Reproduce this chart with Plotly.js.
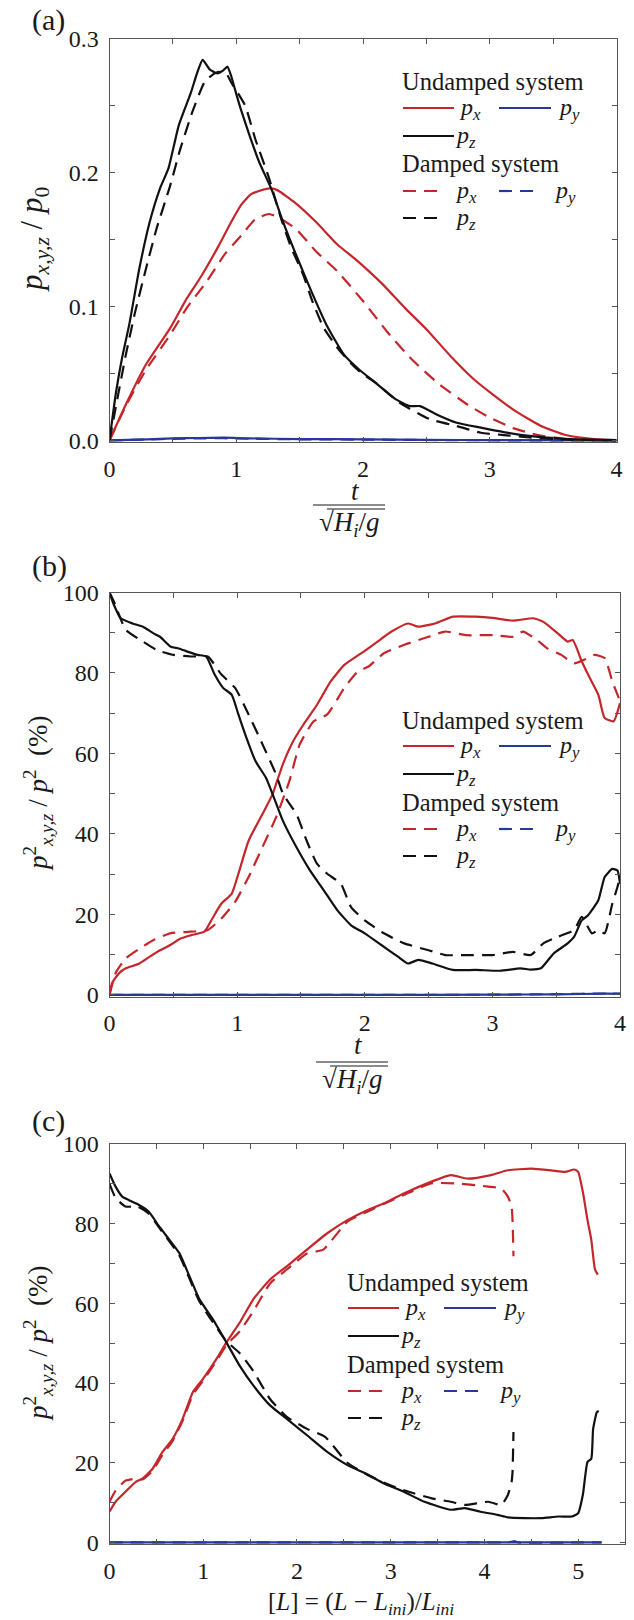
<!DOCTYPE html>
<html>
<head>
<meta charset="utf-8">
<script src="https://cdn.plot.ly/plotly-3.0.1.min.js"></script>
</head>
<body style="margin:0;background:#fff">
<div id="chart" style="width:634px;height:1620px"></div>
<script>
// ---------------- Panel (a): p/p0 vs t/sqrt(Hi/g) ----------------
const tA_pxU = [0, 0.13, 0.29, 0.48, 0.61, 0.72, 0.86, 0.96, 1.04, 1.12, 1.25, 1.32, 1.47, 1.63, 1.8, 1.93, 2.05, 2.15, 2.34, 2.5, 2.69, 2.87, 3.0, 3.2, 3.4, 3.6, 3.8, 4.0];
const vA_pxU = [0, 0.027, 0.057, 0.084, 0.106, 0.122, 0.145, 0.163, 0.176, 0.184, 0.188, 0.187, 0.177, 0.163, 0.146, 0.136, 0.126, 0.117, 0.098, 0.083, 0.063, 0.046, 0.036, 0.022, 0.011, 0.004, 0.0012, 0.0002];
const tA_pzU = [0, 0.05, 0.1, 0.156, 0.237, 0.317, 0.398, 0.465, 0.546, 0.64, 0.694, 0.735, 0.79, 0.85, 0.895, 0.93, 0.96, 0.99, 1.03, 1.1, 1.18, 1.28, 1.37, 1.47, 1.58, 1.71, 1.85, 1.98, 2.1, 2.26, 2.37, 2.45, 2.58, 2.74, 2.93, 3.11, 3.33, 3.59, 3.8, 4.0];
const vA_pzU = [0, 0.035, 0.062, 0.0866, 0.129, 0.163, 0.188, 0.203, 0.235, 0.259, 0.275, 0.284, 0.277, 0.274, 0.276, 0.279, 0.272, 0.262, 0.249, 0.229, 0.208, 0.187, 0.163, 0.139, 0.114, 0.0866, 0.064, 0.052, 0.043, 0.0306, 0.0256, 0.0256, 0.0194, 0.0132, 0.0095, 0.0062, 0.0032, 0.0012, 0.0005, 0.0002];
const tA_pyU = [0, 0.3, 0.5, 0.7, 0.9, 1.1, 1.5, 2.0, 2.5, 3.0, 4.0];
const vA_pyU = [0, 0.0008, 0.0015, 0.0018, 0.002, 0.0015, 0.001, 0.0008, 0.0004, 0.0002, 0];
const tA_pxD = [0, 0.13, 0.29, 0.48, 0.61, 0.77, 0.91, 1.04, 1.15, 1.26, 1.34, 1.47, 1.63, 1.8, 2.0, 2.2, 2.39, 2.6, 2.82, 3.0, 3.19, 3.38, 3.59, 3.8, 4.0];
const vA_pxD = [0, 0.026, 0.053, 0.079, 0.099, 0.119, 0.139, 0.153, 0.165, 0.169, 0.166, 0.158, 0.141, 0.126, 0.104, 0.08, 0.06, 0.042, 0.027, 0.017, 0.009, 0.004, 0.0012, 0.0003, 0];
const tA_pzD = [0, 0.05, 0.129, 0.2, 0.29, 0.371, 0.478, 0.56, 0.653, 0.747, 0.8, 0.855, 0.92, 0.962, 1.07, 1.15, 1.258, 1.352, 1.433, 1.527, 1.6, 1.69, 1.8, 1.9, 1.99, 2.1, 2.29, 2.53, 2.74, 2.93, 3.11, 3.33, 3.59, 4.0];
const vA_pzD = [0, 0.025, 0.064, 0.095, 0.129, 0.158, 0.19, 0.218, 0.245, 0.267, 0.272, 0.275, 0.274, 0.267, 0.25, 0.225, 0.196, 0.166, 0.144, 0.124, 0.104, 0.084, 0.069, 0.058, 0.05, 0.043, 0.028, 0.0157, 0.0107, 0.0057, 0.004, 0.002, 0.0007, 0];
const tA_pyD = [0, 0.3, 0.5, 0.7, 0.9, 1.1, 1.5, 2.0, 2.5, 3.0, 4.0];
const vA_pyD = [0, 0.0007, 0.0012, 0.0015, 0.0016, 0.0012, 0.0008, 0.0006, 0.0003, 0.0001, 0];

// ---------------- Panel (b): p^2/p^2 (%) vs t ----------------
const tB_pxU = [0, 0.02, 0.075, 0.128, 0.235, 0.315, 0.396, 0.476, 0.556, 0.636, 0.743, 0.797, 0.877, 0.957, 1.01, 1.09, 1.198, 1.278, 1.358, 1.44, 1.52, 1.626, 1.733, 1.84, 2.0, 2.1, 2.21, 2.34, 2.42, 2.55, 2.69, 2.87, 3.0, 3.16, 3.32, 3.4, 3.51, 3.59, 3.63, 3.7, 3.75, 3.83, 3.88, 3.95, 4.0];
const vB_pxU = [0, 2.9, 5.4, 6.6, 7.8, 9.5, 11.1, 12.4, 14, 14.8, 15.7, 18.5, 22.7, 25.1, 30.1, 38.3, 44.9, 49.9, 57.3, 63.1, 67.2, 72.1, 77.9, 82, 85.5, 87.8, 90.3, 92.3, 91.5, 92.3, 94, 94, 93.7, 93, 93.6, 92.7, 89.9, 87.8, 88.2, 82.9, 79.6, 74.6, 68.8, 68, 72.5];
const tB_pzU = [0, 0.035, 0.088, 0.18, 0.262, 0.342, 0.396, 0.476, 0.543, 0.61, 0.69, 0.757, 0.824, 0.89, 0.957, 1.01, 1.064, 1.144, 1.225, 1.278, 1.358, 1.465, 1.572, 1.679, 1.786, 1.893, 2.0, 2.13, 2.26, 2.34, 2.42, 2.53, 2.69, 2.87, 3.06, 3.22, 3.3, 3.38, 3.48, 3.59, 3.64, 3.7, 3.75, 3.83, 3.88, 3.94, 3.98, 4.0];
const vB_pzU = [100, 96.9, 93.6, 92.3, 91.5, 89.9, 89, 86.6, 86.1, 85.3, 84.5, 84.1, 79.6, 76.3, 74.6, 69.7, 64.7, 58.1, 54, 49.9, 43.3, 36.7, 30.9, 26, 21, 17.3, 15.3, 12.4, 9.5, 7.8, 8.7, 7.8, 6.2, 6.2, 6.0, 6.6, 6.3, 6.6, 10.3, 12.8, 14.4, 18.5, 19.8, 23.5, 29.3, 31.3, 30.9, 27.6];
const tB_pyU = [0, 1, 2, 3, 3.5, 3.9, 4.0];
const vB_pyU = [0, 0, 0, 0.05, 0.15, 0.3, 0.25];
const tB_pxD = [0, 0.048, 0.128, 0.235, 0.342, 0.476, 0.636, 0.77, 0.877, 0.984, 1.09, 1.198, 1.305, 1.41, 1.49, 1.6, 1.706, 1.84, 1.947, 2.03, 2.15, 2.31, 2.5, 2.63, 2.79, 3.0, 3.16, 3.24, 3.35, 3.43, 3.54, 3.64, 3.72, 3.8, 3.88, 3.94, 3.98, 4.0];
const vB_pxD = [0, 5.4, 9.1, 11.5, 13.6, 15.3, 15.7, 16.1, 19, 23.1, 29.3, 36.7, 44.1, 53.2, 62.2, 68, 69.7, 76.3, 80.4, 81.6, 84.9, 87, 89, 90.3, 89.4, 89.4, 89, 90.3, 88.2, 86.1, 84.5, 82.4, 83.3, 84.5, 83.7, 77.9, 74.6, 73];
const tB_pzD = [0, 0.035, 0.128, 0.262, 0.37, 0.5, 0.636, 0.77, 0.877, 0.984, 1.09, 1.2, 1.305, 1.36, 1.465, 1.545, 1.626, 1.706, 1.813, 1.893, 2.0, 2.15, 2.31, 2.5, 2.63, 2.79, 3.0, 3.16, 3.3, 3.4, 3.51, 3.64, 3.7, 3.78, 3.83, 3.88, 3.94, 3.98, 4.0];
const vB_pzD = [100, 97.7, 90.7, 87.8, 85.7, 84.5, 84.1, 84.1, 79.6, 76.3, 69.7, 62.2, 54.8, 49.9, 44.9, 38.3, 32.6, 30.1, 27.6, 21.8, 18.5, 15.3, 12.8, 11.1, 9.9, 9.9, 9.9, 10.7, 9.9, 12.8, 14.4, 16.1, 19.4, 15.3, 16.1, 15.3, 22.7, 26.8, 29.3];
const tB_pyD = [0, 1, 2, 3, 3.5, 3.9, 4.0];
const vB_pyD = [0, 0, 0, 0.05, 0.2, 0.35, 0.3];

// ---------------- Panel (c): p^2/p^2 (%) vs [L] ----------------
const lC_pxU = [0, 0.065, 0.17, 0.28, 0.35, 0.46, 0.566, 0.674, 0.78, 0.889, 0.996, 1.14, 1.247, 1.39, 1.534, 1.713, 1.892, 2.107, 2.323, 2.538, 2.75, 2.93, 3.14, 3.43, 3.64, 3.82, 4.07, 4.25, 4.5, 4.71, 4.86, 4.96, 5.0, 5.05, 5.1, 5.14, 5.18, 5.21];
const vC_pxU = [7.7, 10.2, 12.7, 15.2, 16, 18.5, 22.7, 26, 31, 37.7, 41, 46, 50.2, 55.2, 61, 66, 69.3, 73.5, 77.6, 80.9, 83.4, 85.1, 87.6, 90.5, 92.2, 91.3, 92.2, 93.4, 93.8, 93.4, 93, 93.6, 93, 88, 80.9, 76, 68.5, 67.2];
const lC_pzU = [0, 0.065, 0.136, 0.208, 0.315, 0.42, 0.53, 0.638, 0.745, 0.853, 0.96, 1.104, 1.247, 1.39, 1.534, 1.713, 1.892, 2.107, 2.323, 2.538, 2.75, 2.93, 3.14, 3.36, 3.64, 3.79, 3.96, 4.14, 4.25, 4.43, 4.61, 4.79, 4.93, 5.0, 5.05, 5.1, 5.14, 5.16, 5.2, 5.22];
const vC_pzU = [92.6, 89.3, 86.8, 85.9, 84.7, 83, 79.3, 76, 72.6, 66.8, 61, 56, 50.2, 44.3, 39.4, 34.4, 31, 26.9, 22.7, 19.4, 17.1, 14.8, 12.7, 10.2, 8.2, 8.6, 7.7, 6.9, 6.3, 6.1, 6.1, 6.5, 6.5, 7.3, 11.9, 20.2, 21, 28.5, 32.7, 33];
const lC_pyU = [0, 1, 2, 3, 4, 5, 5.25];
const vC_pyU = [0, 0, 0, 0, 0, 0, 0];
const lC_pxD = [0, 0.065, 0.17, 0.28, 0.35, 0.46, 0.566, 0.674, 0.78, 0.889, 0.996, 1.14, 1.247, 1.39, 1.534, 1.713, 1.892, 2.107, 2.28, 2.538, 2.75, 2.93, 3.14, 3.43, 3.71, 4.04, 4.18, 4.25, 4.29, 4.31];
const vC_pxD = [10.2, 13, 15.5, 16, 15.8, 18, 22, 25.5, 30.5, 37, 40.5, 45.5, 49.5, 53, 58, 65, 68.5, 72.5, 73.5, 80.5, 83, 85, 87.2, 90.1, 90.1, 89.3, 88.8, 86.8, 84.3, 71.8];
const lC_pzD = [0, 0.065, 0.17, 0.3, 0.42, 0.53, 0.745, 0.96, 1.247, 1.39, 1.534, 1.713, 1.892, 2.107, 2.3, 2.538, 2.75, 2.93, 3.14, 3.43, 3.64, 3.79, 4.04, 4.18, 4.25, 4.29, 4.3, 4.31];
const vC_pzD = [90, 86.5, 84.3, 84.3, 82.5, 79, 72, 60.5, 50.5, 47.5, 43, 36, 31.5, 28.5, 26.5, 20, 17, 15, 13.1, 11.1, 10.2, 9.4, 10.2, 9.4, 11.9, 15.2, 17.7, 27.7];
const lC_pyD = [0, 1, 2, 3, 4, 4.28, 4.32, 4.36, 5, 5.25];
const vC_pyD = [0, 0, 0, 0, 0, 0.1, 0.35, 0, 0, 0];

// ---------------- Text ----------------
const legendTitles = ["Undamped system", "Damped system"];
const compLabels = ["<i>p</i><sub><i>x</i></sub>", "<i>p</i><sub><i>y</i></sub>", "<i>p</i><sub><i>z</i></sub>"];
const panelLabels = ["(a)", "(b)", "(c)"];

// ---------------- Styles ----------------
const RED = "#c4262b", BLACK = "#111111", BLUE = "#26399b";
const DASH = "13px,8px";
const FONT = "Liberation Serif";
const W = 634, H = 1620;
const X = px => px / W;
const Y = py => 1 - py / H;

function tr(x, y, color, dashed, xa, ya) {
  return {x: x, y: y, type: "scatter", mode: "lines", xaxis: xa, yaxis: ya,
    line: {color: color, width: 2.2, dash: dashed ? DASH : "solid", shape: "spline", smoothing: 0.5},
    showlegend: false, hoverinfo: "skip"};
}

const data = [
  tr(tA_pyU, vA_pyU, BLUE, false, "x", "y"),
  tr(tA_pyD, vA_pyD, BLUE, true, "x", "y"),
  tr(tA_pxD, vA_pxD, RED, true, "x", "y"),
  tr(tA_pxU, vA_pxU, RED, false, "x", "y"),
  tr(tA_pzD, vA_pzD, BLACK, true, "x", "y"),
  tr(tA_pzU, vA_pzU, BLACK, false, "x", "y"),

  tr(tB_pyU, vB_pyU, BLUE, false, "x2", "y2"),
  tr(tB_pyD, vB_pyD, BLUE, true, "x2", "y2"),
  tr(tB_pxD, vB_pxD, RED, true, "x2", "y2"),
  tr(tB_pxU, vB_pxU, RED, false, "x2", "y2"),
  tr(tB_pzD, vB_pzD, BLACK, true, "x2", "y2"),
  tr(tB_pzU, vB_pzU, BLACK, false, "x2", "y2"),

  tr(lC_pyU, vC_pyU, BLUE, false, "x3", "y3"),
  tr(lC_pyD, vC_pyD, BLUE, true, "x3", "y3"),
  tr(lC_pxD, vC_pxD, RED, true, "x3", "y3"),
  tr(lC_pxU, vC_pxU, RED, false, "x3", "y3"),
  tr(lC_pzD, vC_pzD, BLACK, true, "x3", "y3"),
  tr(lC_pzU, vC_pzU, BLACK, false, "x3", "y3")
];

const MINOR = {ticks: "inside", ticklen: 5, tickwidth: 1, tickcolor: "#555", showgrid: false};
function axis(extra) {
  return Object.assign({
    showline: true, linecolor: "#555", linewidth: 1, mirror: "ticks",
    ticks: "inside", ticklen: 5, tickwidth: 1, tickcolor: "#555",
    showgrid: false, zeroline: false, fixedrange: true,
    ticklabelstandoff: 5,
    tickfont: {family: FONT, size: 24, color: "#1a1a1a"}
  }, extra);
}

// panel frames in pixels: [left, right, top, bottom]
const frames = [[109.5, 616.5, 38.5, 442], [109.5, 620, 592.5, 996.5], [109.5, 625, 1144, 1544]];
const dom = f => ({x: [X(f[0]), X(f[1])], y: [Y(f[3]), Y(f[2])]});

const layout = {
  width: W, height: H,
  margin: {l: 0, r: 0, t: 0, b: 0},
  paper_bgcolor: "#fff", plot_bgcolor: "#fff",
  showlegend: false,
  font: {family: FONT, size: 20, color: "#1a1a1a"},
  xaxis: axis({domain: dom(frames[0]).x, anchor: "y", range: [0, 4], dtick: 1, minor: Object.assign({dtick: 0.5}, MINOR)}),
  yaxis: axis({domain: dom(frames[0]).y, anchor: "x", range: [-0.0012, 0.3], tick0: 0, dtick: 0.1, tickformat: ".1f", minor: Object.assign({dtick: 0.05, tick0: 0}, MINOR)}),
  xaxis2: axis({domain: dom(frames[1]).x, anchor: "y2", range: [0, 4], dtick: 1, minor: Object.assign({dtick: 0.5}, MINOR)}),
  yaxis2: axis({domain: dom(frames[1]).y, anchor: "x2", range: [-0.4, 100], tick0: 0, dtick: 20, minor: Object.assign({dtick: 10, tick0: 0}, MINOR)}),
  xaxis3: axis({domain: dom(frames[2]).x, anchor: "y3", range: [0, 5.5], dtick: 1, minor: Object.assign({dtick: 0.5}, MINOR)}),
  yaxis3: axis({domain: dom(frames[2]).y, anchor: "x3", range: [-0.4, 100], tick0: 0, dtick: 20, minor: Object.assign({dtick: 10, tick0: 0}, MINOR)}),
  shapes: [], annotations: []
};

function txt(text, px, py, size, opts) {
  layout.annotations.push(Object.assign({
    text: text, x: X(px), y: Y(py), xref: "paper", yref: "paper",
    showarrow: false, xanchor: "left", yanchor: "middle", borderpad: 0,
    font: {family: FONT, size: size, color: "#1a1a1a"}
  }, opts || {}));
}
function seg(x0, x1, y, color, dashed, width) {
  layout.shapes.push({type: "line", xref: "paper", yref: "paper",
    x0: X(x0), x1: X(x1), y0: Y(y), y1: Y(y),
    line: {color: color, width: width || 2.2, dash: dashed ? DASH : "solid"}});
}

// Legend blocks (same structure in every panel)
function legendBlock(left, top) {
  txt(legendTitles[0], left - 2, top, 24.5);
  seg(left, left + 51, top + 26, RED, false);
  txt(compLabels[0], left + 55, top + 27, 24);
  seg(left + 96, left + 148, top + 26, BLUE, false);
  txt(compLabels[1], left + 154, top + 27, 24);
  seg(left, left + 51, top + 54, BLACK, false);
  txt(compLabels[2], left + 51, top + 55, 24);
  txt(legendTitles[1], left - 2, top + 82, 24.5);
  seg(left, left + 42, top + 109, RED, true);
  txt(compLabels[0], left + 51, top + 110, 24);
  seg(left + 96, left + 138, top + 109, BLUE, true);
  txt(compLabels[1], left + 150, top + 110, 24);
  seg(left, left + 42, top + 136, BLACK, true);
  txt(compLabels[2], left + 51, top + 137, 24);
}
legendBlock(403, 82);
legendBlock(403, 720);
legendBlock(348, 1282);

// Panel labels
txt(panelLabels[0], 31, 20, 30);
txt(panelLabels[1], 31, 566, 30);
txt(panelLabels[2], 31, 1121, 30);

// Y axis titles
txt("<i>p</i><sub><i>x,y,z</i></sub> / <i>p</i><sub>0</sub>", 34, 240, 31, {xanchor: "center", textangle: -90});
const yTitlePct = "<i>p</i><sup>2</sup><sub><i>x,y,z</i></sub> / <i>p</i><sup>2</sup>  (%)";
txt(yTitlePct, 38, 794, 27, {xanchor: "center", textangle: -90});
txt(yTitlePct, 38, 1344, 27, {xanchor: "center", textangle: -90});

// X axis titles: fraction t / sqrt(Hi/g)
function fracTitle(cx, yT, yBar, yRoot) {
  txt("<i>t</i>", cx + 6, yT, 27, {xanchor: "center"});
  seg(cx - 36, cx + 36, yBar, "#1a1a1a", false, 1.2);
  txt("√<i>H</i><sub><i>i</i></sub>/<i>g</i>", cx, yRoot, 27, {xanchor: "center"});
  seg(cx - 22, cx + 36, yBar + 4, "#1a1a1a", false, 1.2);
}
fracTitle(349, 491, 505, 524);
fracTitle(352, 1045, 1062, 1081);
txt("[<i>L</i>] = (<i>L</i> − <i>L</i><sub><i>ini</i></sub>)/<i>L</i><sub><i>ini</i></sub>", 361, 1603, 25, {xanchor: "center"});

Plotly.newPlot("chart", data, layout, {displayModeBar: false});
</script>
</body>
</html>
